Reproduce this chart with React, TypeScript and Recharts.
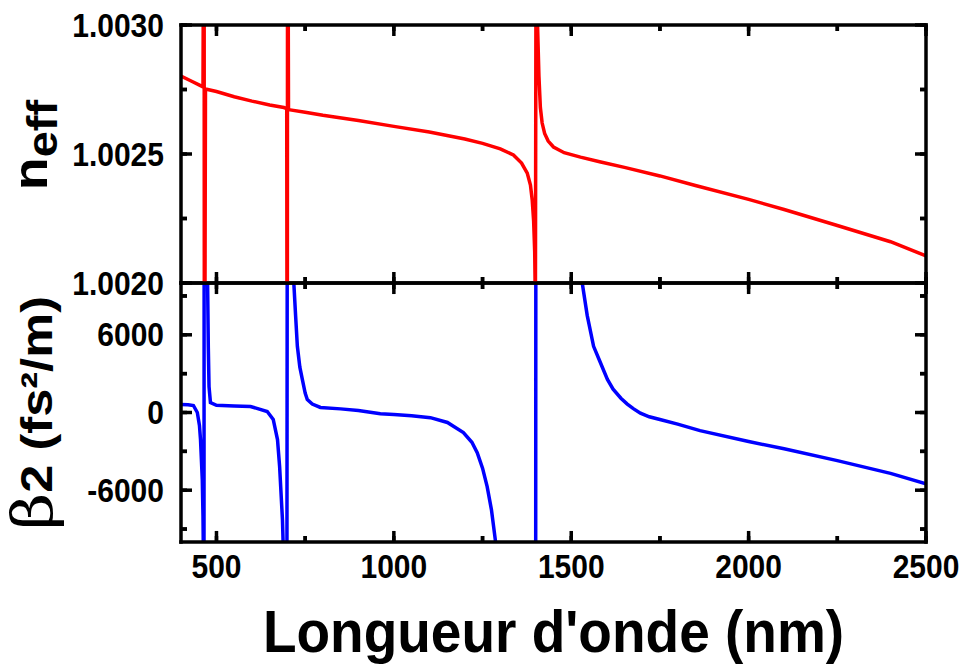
import React from "react";
import { LineChart, Line, XAxis, YAxis, ReferenceLine } from "recharts";

// wavelength (nm) / effective index
const wlN = [
  400, 430, 455, 462, 465, 466, 469, 500, 550, 600, 650, 690, 698, 699.5, 700.5, 703,
  750, 800, 900, 1000, 1100, 1200, 1250, 1300, 1337, 1360, 1376, 1385, 1390, 1394,
  1397, 1399, 1401, 1405, 1409, 1413, 1418, 1425, 1435, 1450, 1480, 1526, 1580, 1650,
  1750, 1850, 2000, 2100, 2250, 2400, 2500,
];
const neff = [
  1.002802, 1.002782, 1.002765, 1.00276, 1.004, 1.001, 1.002752, 1.002742, 1.002722,
  1.002705, 1.00269, 1.00268, 1.002676, 1.001, 1.004, 1.002672, 1.002662, 1.00265,
  1.00263, 1.002607, 1.002585, 1.002558, 1.002541, 1.00252, 1.002496, 1.002465, 1.002426,
  1.00238, 1.002322, 1.00224, 1.00212, 1.0019, 1.0035, 1.003, 1.0028, 1.00268, 1.00262,
  1.00258, 1.00255, 1.002527, 1.002505, 1.002488, 1.00247, 1.002448, 1.002415,
  1.002378, 1.002324, 1.002285, 1.002223, 1.00216, 1.002105,
];

// wavelength (nm) / beta2 (fs^2/m), lower panel
const wlB = [
  400, 420, 435, 446, 452, 455, 460, 462, 463.5, 464.5, 465.5, 472, 475, 477, 479, 483,
  500, 550, 596, 643, 660, 672, 678, 686, 692, 698, 700, 712, 718, 723, 728, 735, 742,
  750, 756, 770, 793, 850, 900, 962, 1000, 1050, 1103, 1151, 1196, 1220, 1235, 1250,
  1263, 1275, 1286, 1295, 1399.5, 1400.5, 1520, 1531, 1545, 1563, 1580, 1602, 1618,
  1640, 1658, 1675, 1695, 1720, 1750, 1800, 1863, 2000, 2100, 2250, 2400, 2500,
];
const beta2 = [
  620, 600, 540, 0, -1000, -2090, -5190, -8000, -12000, -30000, 30000, 14000, 10000,
  5000, 2000, 774, 560, 500, 465, 77, -540, -2090, -4181, -8284, -14000, -30000, 30000,
  20000, 10000, 7500, 5110, 3500, 2555, 1500, 1006, 650, 387, 280, 150, -100, -160,
  -250, -400, -770, -1548, -2300, -3097, -4300, -5729, -7500, -9832, -14000, -30000,
  30000, 12500, 10000, 7500, 5110, 4000, 2555, 1800, 1100, 650, 300, -50, -330, -542,
  -900, -1400, -2245, -2800, -3716, -4700, -5500,
];

const X_DOMAIN = [400, 2500];
const N_DOMAIN = [1.002, 1.003];
const B_DOMAIN = [-10000, 10000];
const X_TICKS = [500, 1000, 1500, 2000, 2500];
const X_MINOR = [750, 1250, 1750, 2250];
const N_TICKS = [1.002, 1.0025, 1.003];
const N_MINOR = [1.00225, 1.00275];
const B_TICKS = [-6000, 0, 6000];
const B_MINOR = [-9000, -3000, 3000, 9000];

const neffData = wlN.map((wl, i) => ({ wl, n: neff[i] }));
const betaData = wlB.map((wl, i) => ({ wl, b: beta2[i] }));

const SANS = "'Liberation Sans', Arial, Helvetica, sans-serif";
const FRAME = { stroke: "#000", strokeWidth: 3.5, strokeLinecap: "square" as const };
const TICK_LINE = { stroke: "#000", strokeWidth: 3.5 };
const PLOT_W = 745;
const PLOT_H = 258;
const MAJOR = 11;
const MINOR = 6;
const STRETCH = 1.08;

const both = (a: number[], b: number[]) => [...a, ...b].sort((p, q) => p - q);

const EmptyTick = () => <g />;

const XTick = (props: any) => {
  const { x, y, payload } = props;
  return (
    <text transform={`translate(${x},${y}) scale(1,${STRETCH})`} textAnchor="middle" dy="0.71em"
      fontFamily={SANS} fontWeight={700} fontSize={30} fill="#000">
      {payload.value}
    </text>
  );
};

const makeYTick = (digits: number) => (props: any) => {
  const { x, y, payload } = props;
  return (
    <text transform={`translate(${x},${y}) scale(1,${STRETCH})`} textAnchor="end" dy="0.355em"
      fontFamily={SANS} fontWeight={700} fontSize={30} fill="#000">
      {digits ? Number(payload.value).toFixed(digits) : payload.value}
    </text>
  );
};
const NTick = makeYTick(4);
const BTick = makeYTick(0);

const NeffLabel = () => (
  <text transform="translate(47,145) scale(1,1.12) rotate(-90)" textAnchor="middle" fontFamily={SANS}
    fontWeight={700} fill="#000">
    <tspan fontSize={48}>n</tspan>
    <tspan fontSize={42} dy={10}>eff</tspan>
  </text>
);

const BetaLabel = () => (
  <text transform="translate(52,150) scale(1,1.15) rotate(-90)" textAnchor="middle" fill="#000">
    <tspan fontFamily="'DejaVu Serif', serif" fontSize={56}>β</tspan>
    <tspan fontFamily={SANS} fontWeight={700} fontSize={44}>2 (fs²/m)</tspan>
  </text>
);

const TitleLabel = () => (
  <text transform={`translate(553.5,389) scale(1,${STRETCH})`} textAnchor="middle" fontFamily={SANS}
    fontWeight={700} fontSize={55} fill="#000">
    Longueur d'onde (nm)
  </text>
);

// inward tick marks on all four sides of a panel, drawn as short segments in data units
function frameTicks(yDomain: number[], yMajor: number[], yMinor: number[], prefix: string) {
  const [x0, x1] = X_DOMAIN;
  const [y0, y1] = yDomain;
  const dx = (px: number) => ((x1 - x0) * px) / PLOT_W;
  const dy = (px: number) => ((y1 - y0) * px) / PLOT_H;
  const seg = (key: string, a: { x: number; y: number }, b: { x: number; y: number }) => (
    <ReferenceLine key={prefix + key} xAxisId="xb" yAxisId="yl" segment={[a, b]} stroke="#000"
      strokeWidth={3.5} ifOverflow="visible" />
  );
  const out: React.ReactNode[] = [];
  const groups: [number[], number][] = [[X_TICKS, MAJOR], [X_MINOR, MINOR]];
  groups.forEach(([ticks, len]) => {
    ticks.forEach((t) => {
      out.push(seg(`xb${t}`, { x: t, y: y0 }, { x: t, y: y0 + dy(len) }));
      out.push(seg(`xt${t}`, { x: t, y: y1 }, { x: t, y: y1 - dy(len) }));
    });
  });
  const yGroups: [number[], number][] = [[yMajor, MAJOR], [yMinor, MINOR]];
  yGroups.forEach(([ticks, len]) => {
    ticks.forEach((t) => {
      out.push(seg(`yl${t}`, { x: x0, y: t }, { x: x0 + dx(len), y: t }));
      out.push(seg(`yr${t}`, { x: x1, y: t }, { x: x1 - dx(len), y: t }));
    });
  });
  return out;
}

// one mirrored axis per side: frame line plus short inward ticks, takes no room
const xEdge = (id: string, orientation: "top" | "bottom", line: boolean) => (
  <XAxis key={id} xAxisId={id} orientation={orientation} mirror type="number" dataKey="wl"
    domain={X_DOMAIN} allowDataOverflow ticks={both(X_TICKS, X_MINOR)} interval={0} tick={EmptyTick}
    tickSize={MINOR} tickLine={TICK_LINE} axisLine={line ? FRAME : false} />
);
const yEdge = (id: string, orientation: "left" | "right", domain: number[], ticks: number[], line: boolean) => (
  <YAxis key={id} yAxisId={id} orientation={orientation} mirror type="number" domain={domain}
    allowDataOverflow ticks={ticks} interval={0} tick={EmptyTick} tickSize={MINOR}
    tickLine={TICK_LINE} axisLine={line ? FRAME : false} />
);

export default function App() {
  return (
    <div style={{ position: "absolute", left: 0, top: 0, width: 964, height: 664, background: "#fff" }}>
      <div style={{ position: "absolute", left: 0, top: 263 }}>
        <LineChart width={964} height={401} data={betaData} margin={{ top: 20, right: 38, bottom: 0, left: 61 }}>
          <XAxis xAxisId="xb" orientation="bottom" type="number" dataKey="wl" domain={X_DOMAIN}
            allowDataOverflow height={122} ticks={X_TICKS} interval={0} tick={XTick} tickLine={false}
            tickSize={0} tickMargin={13} axisLine={FRAME} label={<TitleLabel />} />
          {xEdge("xbt", "bottom", false)}
          {xEdge("xt", "top", true)}
          <YAxis yAxisId="yl" type="number" domain={B_DOMAIN} allowDataOverflow width={120}
            ticks={B_TICKS} interval={0} tick={BTick} tickLine={false} tickSize={0} tickMargin={17}
            axisLine={FRAME} label={<BetaLabel />} />
          {yEdge("ylt", "left", B_DOMAIN, both(B_TICKS, B_MINOR), false)}
          {yEdge("yr", "right", B_DOMAIN, both(B_TICKS, B_MINOR), true)}
          {frameTicks(B_DOMAIN, B_TICKS, B_MINOR, "b")}
          <Line xAxisId="xb" yAxisId="yl" type="linear" dataKey="b" stroke="#0000ff" strokeWidth={3.5}
            dot={false} isAnimationActive={false} />
        </LineChart>
      </div>
      <div style={{ position: "absolute", left: 0, top: 0 }}>
        <LineChart width={964} height={300} data={neffData} margin={{ top: 25, right: 38, bottom: 17, left: 61 }}>
          {xEdge("xb", "bottom", true)}
          {xEdge("xt", "top", true)}
          <YAxis yAxisId="yl" type="number" domain={N_DOMAIN} allowDataOverflow width={120}
            ticks={N_TICKS} interval={0} tick={NTick} tickLine={false} tickSize={0} tickMargin={17}
            axisLine={FRAME} label={<NeffLabel />} />
          {yEdge("ylt", "left", N_DOMAIN, both(N_TICKS, N_MINOR), false)}
          {yEdge("yr", "right", N_DOMAIN, both(N_TICKS, N_MINOR), true)}
          {frameTicks(N_DOMAIN, N_TICKS, N_MINOR, "n")}
          <Line xAxisId="xb" yAxisId="yl" type="linear" dataKey="n" stroke="#ff0000" strokeWidth={3.5}
            dot={false} isAnimationActive={false} />
        </LineChart>
      </div>
    </div>
  );
}
